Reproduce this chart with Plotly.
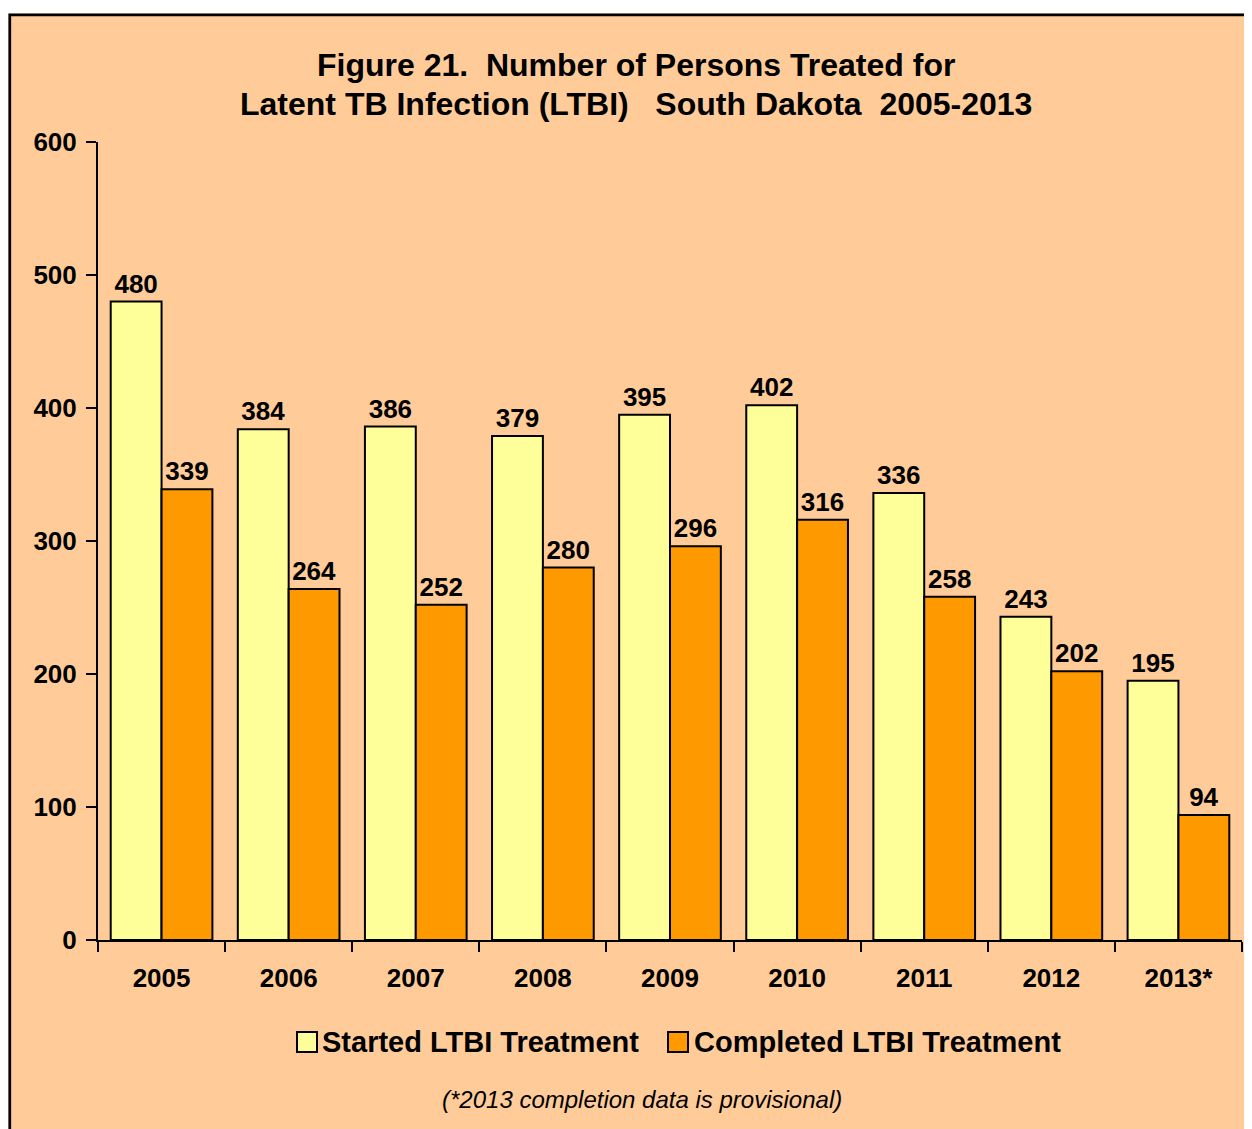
import plotly.graph_objects as go

years = ["2005", "2006", "2007", "2008", "2009", "2010", "2011", "2012", "2013*"]
started = [480, 384, 386, 379, 395, 402, 336, 243, 195]
completed = [339, 264, 252, 280, 296, 316, 258, 202, 94]
series_names = ["Started LTBI Treatment", "Completed LTBI Treatment"]
title_lines = ["Figure 21.\u00a0 Number of Persons Treated for",
               "Latent TB Infection (LTBI) \u00a0 South Dakota\u00a0 2005-2013"]
footnote = "(*2013 completion data is provisional)"

# page body has an 8px margin; work in reference-image pixels and convert
OFF = 8
W, H = 1252, 1129
PLOT_L, PLOT_R, PLOT_T, PLOT_B = 98, 1242, 142, 940   # reference pixels
L, T = PLOT_L - OFF, PLOT_T - OFF
R = W - (PLOT_R - OFF)
B = H - (PLOT_B - OFF)
PW, PH = PLOT_R - PLOT_L, PLOT_B - PLOT_T

def px(x):
    return (x - PLOT_L) / PW

def py(y):
    return (PLOT_B - y) / PH

FONT = "Liberation Sans, Arial, sans-serif"
YELLOW = "#FFFF99"
ORANGE = "#FF9900"
PEACH = "#FFCC99"

fig = go.Figure()
for name, vals, col in [(series_names[0], started, YELLOW), (series_names[1], completed, ORANGE)]:
    fig.add_trace(go.Bar(
        x=years, y=vals, name=name,
        marker=dict(color=col, line=dict(color="black", width=2)),
        text=[str(v) for v in vals], textposition="outside",
        textfont=dict(family=FONT, size=26, color="black", weight="bold"),
        cliponaxis=False, showlegend=False,
    ))

fig.update_layout(
    width=W, height=H,
    margin=dict(l=L, r=R, t=T, b=B, pad=0),
    paper_bgcolor=PEACH, plot_bgcolor=PEACH,
    barmode="group", bargap=0.2, bargroupgap=0,
    font=dict(family=FONT, color="black"),
    showlegend=False,
)
fig.update_xaxes(
    type="category", showline=True, linecolor="black", linewidth=2,
    ticks="outside", ticklen=10, tickwidth=2, tickcolor="black",
    tickson="boundaries", showgrid=False, ticklabelstandoff=14,
    tickfont=dict(family=FONT, size=26, color="black", weight="bold"),
    range=[-0.5, len(years) - 0.5],
)
fig.update_yaxes(
    range=[0, 600], dtick=100, showline=True, linecolor="black", linewidth=2,
    ticks="outside", ticklen=10, tickwidth=2, tickcolor="black",
    showgrid=False, zeroline=False, ticklabelstandoff=4,
    tickfont=dict(family=FONT, size=26, color="black", weight="bold"),
)

shapes = []
# white strip above the chart border
shapes.append(dict(type="rect", xref="paper", yref="paper", x0=px(0), x1=px(1300), y0=py(13.5), y1=py(0),
                   fillcolor="white", line=dict(width=0), layer="above"))
shapes.append(dict(type="path", xref="paper", yref="paper",
                   path=f"M {px(9.8)},{py(1140)} L {px(9.8)},{py(14.8)} L {px(1300)},{py(14.8)}",
                   line=dict(color="black", width=2.7), layer="above"))
# legend swatches
for x0, col in [(297, YELLOW), (668, ORANGE)]:
    shapes.append(dict(type="rect", xref="paper", yref="paper", x0=px(x0), x1=px(x0 + 20),
                       y0=py(1052), y1=py(1032), fillcolor=col, line=dict(color="black", width=2)))
fig.update_layout(shapes=shapes)

ann = []
ann.append(dict(text=title_lines[0], x=px(636), y=py(65), xref="paper", yref="paper",
                xanchor="center", yanchor="middle", showarrow=False,
                font=dict(family=FONT, size=32, color="black", weight="bold")))
ann.append(dict(text=title_lines[1], x=px(636), y=py(104), xref="paper", yref="paper",
                xanchor="center", yanchor="middle", showarrow=False,
                font=dict(family=FONT, size=32, color="black", weight="bold")))
for x0, name in [(320, series_names[0]), (692, series_names[1])]:
    ann.append(dict(text=name, x=px(x0), y=py(1042), xref="paper", yref="paper",
                    xanchor="left", yanchor="middle", showarrow=False,
                    font=dict(family=FONT, size=29, color="black", weight="bold")))
ann.append(dict(text=f"<i>{footnote}</i>", x=px(642), y=py(1099), xref="paper", yref="paper",
                xanchor="center", yanchor="middle", showarrow=False,
                font=dict(family=FONT, size=24, color="black")))
fig.update_layout(annotations=ann)

fig.write_html("out.html")
